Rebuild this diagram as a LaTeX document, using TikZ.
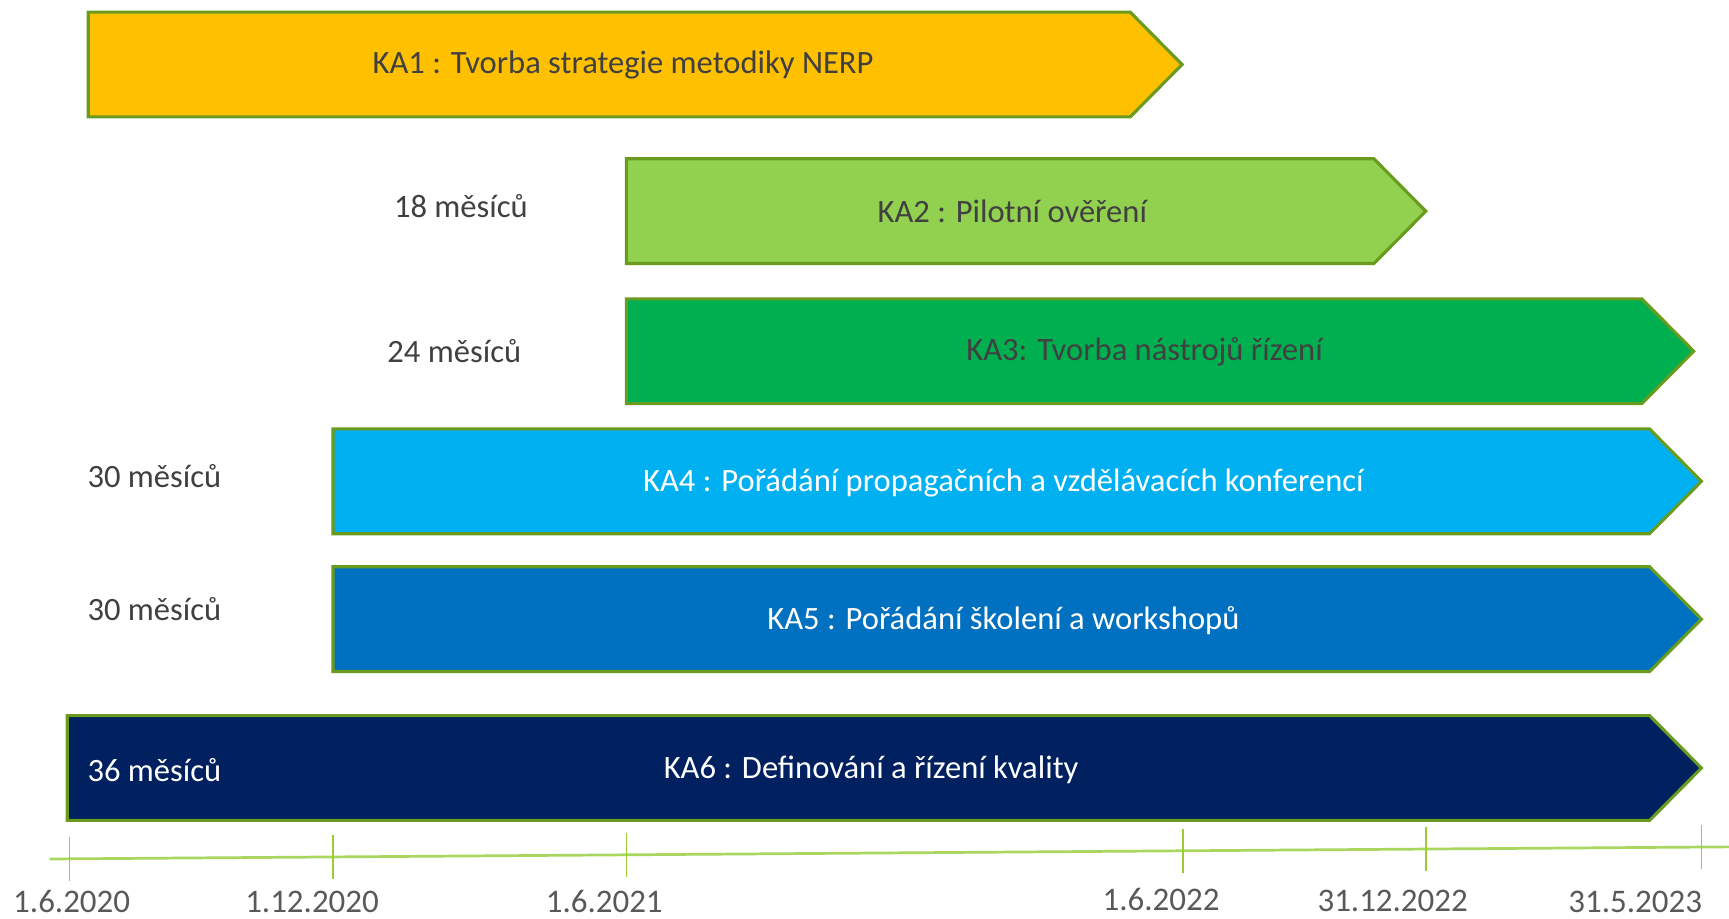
\documentclass[tikz,border=0pt]{standalone}
\usepackage{fontspec}
\setmainfont{Carlito}
\usepackage{xcolor}
\usetikzlibrary{calc}
\definecolor{kaA}{HTML}{FFC000}
\definecolor{kaB}{HTML}{92D050}
\definecolor{kaC}{HTML}{00B050}
\definecolor{kaD}{HTML}{00B0F0}
\definecolor{kaE}{HTML}{0070C0}
\definecolor{kaF}{HTML}{002060}
\definecolor{edge}{HTML}{6A9B1E}
\definecolor{axisgreen}{HTML}{A9D65E}
\definecolor{tickgreen}{HTML}{9ACD32}
\definecolor{dark}{HTML}{404040}
\definecolor{datecol}{HTML}{595959}
\tikzset{
  bar/.style={draw=edge, line width=0.8pt, line join=miter},
  lab/.style={text=dark, font=\fontsize{8.4}{10}\selectfont},
  labw/.style={text=white, font=\fontsize{8.4}{10}\selectfont},
  dur/.style={text=dark, font=\fontsize{8.4}{10}\selectfont},
  axisline/.style={draw=axisgreen, line width=0.7pt},
  tickline/.style={draw=tickgreen, line width=0.4pt},
  datelab/.style={text=datecol, font=\fontsize{8.5}{10}\selectfont},
}

\begin{document}
\begin{tikzpicture}[x=0.01cm, y=-0.01cm]
  \useasboundingbox (0,0) rectangle (1568,833);
  \pgfmathsetmacro{\h}{95}
  \pgfmathsetmacro{\tip}{47}
  % bars: left/top/body end/fill
  \foreach \l/\t/\e/\c in {80/11/1025/kaA, 568/144/1246/kaB, 568/271/1489/kaC,
                           302/389/1496/kaD, 302/514/1496/kaE, 61/649/1496/kaF}{
    \draw[bar, fill=\c] (\l,\t) -- (\e,\t) -- (\e+\tip,\t+\h/2)
      -- (\e,\t+\h) -- (\l,\t+\h) -- cycle;
  }
  \node[lab]  (ka1) at (565,59)  {KA1 : Tvorba strategie metodiky NERP};
  \node[lab]  (ka2) at (918,192) {KA2 : Pilotní ověření};
  \node[lab]  (ka3) at (1038,319) {KA3: Tvorba nástrojů řízení};
  \node[labw] (ka4) at (910,438) {KA4 : Pořádání propagačních a vzdělávacích konferencí};
  \node[labw] (ka5) at (910,563) {KA5 : Pořádání školení a workshopů};
  \node[labw] (ka6) at (790,698) {KA6 : Definování a řízení kvality};
  \node[dur]  (m2) at (418,187) {18 měsíců};
  \node[dur]  (m3) at (412,318) {24 měsíců};
  \node[dur]  (m4) at (140,432) {30 měsíců};
  \node[dur]  (m5) at (140,552) {30 měsíců};
  \node[labw] (m6) at (140,698) {36 měsíců};
  % time axis
  \coordinate (ax0) at (45,779);
  \coordinate (ax1) at (1568,768);
  \draw[axisline] (ax0) -- (ax1);
  \foreach \x/\d/\dx/\dy [count=\i] in {63/1.6.2020/65/818, 302/1.12.2020/283/818,
      568/1.6.2021/548/818, 1073/1.6.2022/1053/816, 1293/31.12.2022/1263/817,
      1543/31.5.2023/1483/818}{
    \pgfmathsetmacro{\y}{779-(\x-45)/1523*11}
    \draw[tickline] (\x,\y-20) -- (\x,\y+20);
    \node[datelab] (d\i) at (\dx,\dy) {\d};
  }
\end{tikzpicture}
\end{document}
